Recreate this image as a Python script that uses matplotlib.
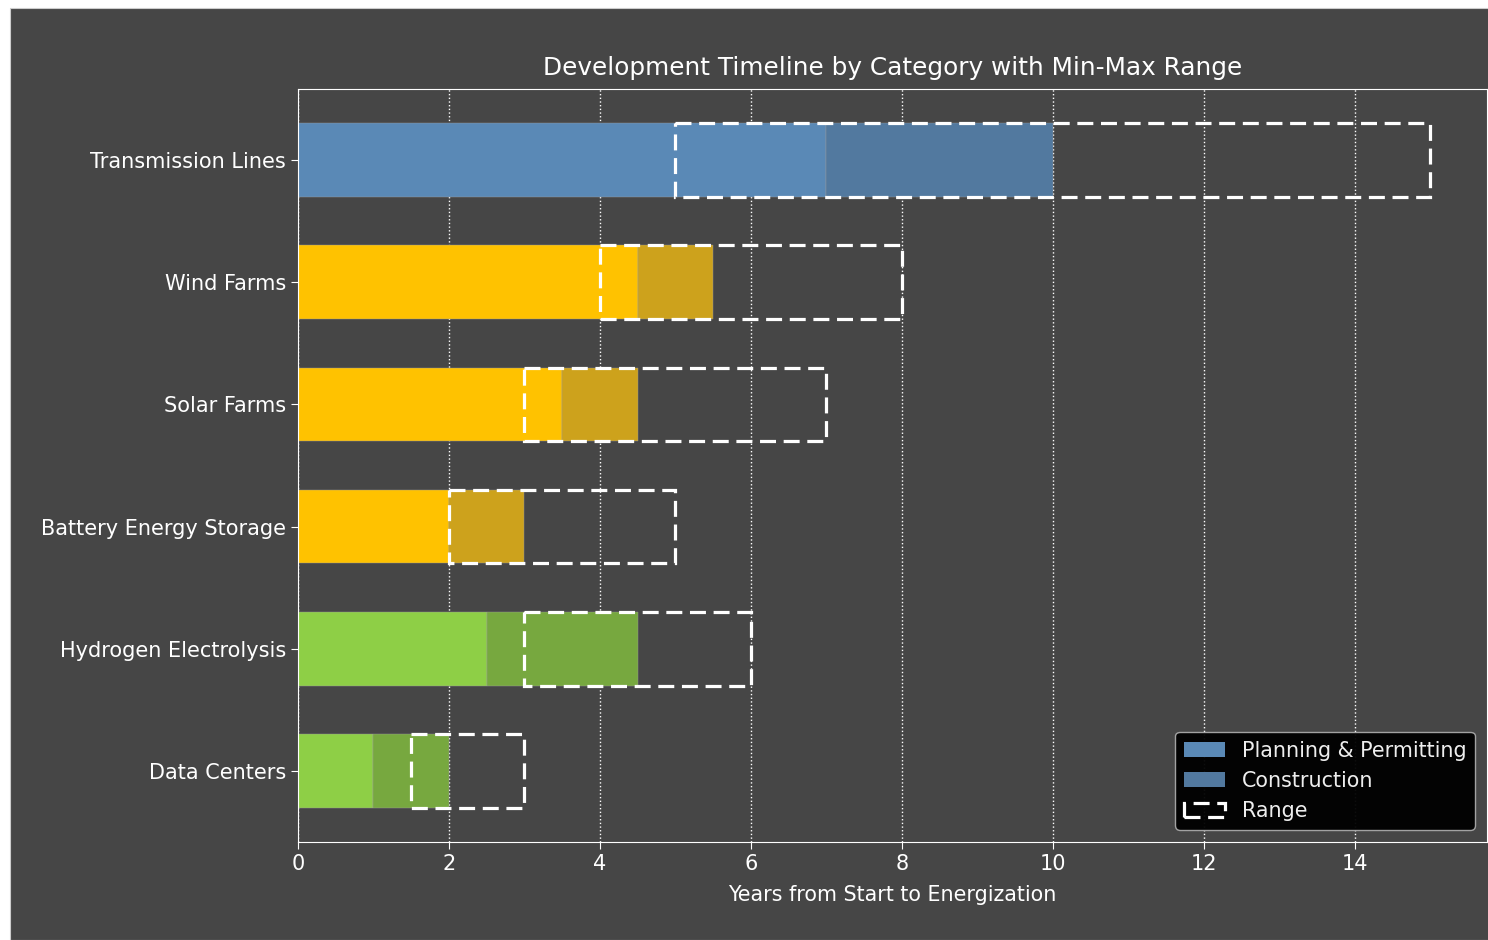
import numpy as np
import matplotlib.pyplot as plt
from matplotlib.patches import Rectangle, Patch

# data (top to bottom)
categories = ['Transmission Lines', 'Wind Farms', 'Solar Farms',
              'Battery Energy Storage', 'Hydrogen Electrolysis', 'Data Centers']
planning = [7, 4.5, 3.5, 2, 2.5, 1]
construction = [3, 1, 1, 1, 2, 1]
range_min = [5, 4, 3, 2, 3, 1.5]
range_max = [15, 8, 7, 5, 6, 3]

plan_colors = ['#5a89b6', '#ffc200', '#ffc200', '#ffc200', '#8ecf46', '#8ecf46']
cons_colors = ['#52799f', '#cda21c', '#cda21c', '#cda21c', '#77a83f', '#77a83f']

bg = '#464646'
fig = plt.figure(figsize=(14.88, 9.4), dpi=100, facecolor='white')
# dark panel (white strip left and top, like the cropped original)
fig.patches.append(Rectangle((10 / 1488, 0), 1, 1 - 8 / 940, transform=fig.transFigure,
                             facecolor=bg, edgecolor='#cccccc', lw=0.8, zorder=-10))
ax = fig.add_axes([298 / 1488, 1 - 842 / 940, 1189 / 1488, 753 / 940])
ax.set_zorder(5)
ax.set_facecolor(bg)

y = np.arange(len(categories))
ax.barh(y, planning, height=0.6, color=plan_colors,
        edgecolor='#9a9a9a', linewidth=0.3, zorder=2)
ax.barh(y, construction, left=planning, height=0.6, color=cons_colors,
        edgecolor='#9a9a9a', linewidth=0.3, zorder=2)

for yi, lo, hi in zip(y, range_min, range_max):
    ax.add_patch(Rectangle((lo, yi - 0.3), hi - lo, 0.6, facecolor='none',
                           edgecolor='white', lw=2.3, linestyle=(0, (5, 2.4)), zorder=3))

ax.set_xlim(0, 15.75)
ax.set_ylim(-0.58, 5.58)
ax.invert_yaxis()
ax.set_yticks(y)
ax.set_yticklabels(categories)
ax.set_xticks(np.arange(0, 16, 2))

ax.grid(axis='x', color='white', linestyle=':', linewidth=1, zorder=0)
ax.set_axisbelow(True)
for s in ax.spines.values():
    s.set_color('white')
ax.tick_params(colors='white', labelsize=15, length=5)

ax.set_title('Development Timeline by Category with Min-Max Range', color='white',
             fontsize=17.8, pad=10)
ax.set_xlabel('Years from Start to Energization', color='white', fontsize=14.9, labelpad=8)

handles = [Patch(facecolor=plan_colors[0]),
           Patch(facecolor=cons_colors[0]),
           Patch(facecolor='none', edgecolor='white', lw=2.3, linestyle=(0, (5, 2.4)))]
leg = ax.legend(handles, ['Planning & Permitting', 'Construction', 'Range'],
                loc='lower right', fontsize=14.9, facecolor='black', edgecolor='#aaaaaa',
                framealpha=0.95, labelcolor='#eeeeee', borderaxespad=0.6)

fig.savefig('out.png', dpi=100, facecolor=fig.get_facecolor())
